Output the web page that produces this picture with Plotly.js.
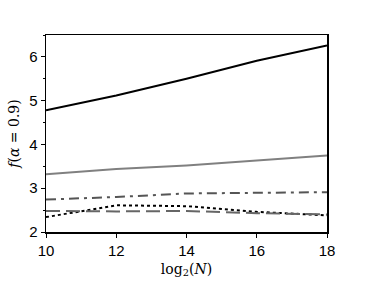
<!DOCTYPE html>
<html><head><meta charset="utf-8">
<script src="https://cdn.plot.ly/plotly-3.0.1.min.js"></script>
<style>html,body{margin:0;padding:0;background:#fff}#chart{width:374px;height:282px}</style>
</head><body><div id="chart"></div>
<script>
const xVals = [10, 12, 14, 16, 18];
const seriesBlack = [4.78, 5.12, 5.50, 5.91, 6.26];
const seriesGray = [3.32, 3.44, 3.52, 3.64, 3.75];
const seriesDashDot = [2.74, 2.80, 2.88, 2.90, 2.91];
const seriesDotted = [2.34, 2.61, 2.59, 2.46, 2.38];
const seriesDashed = [2.48, 2.47, 2.48, 2.43, 2.40];
const xTicks = [10, 12, 14, 16, 18];
const yTicks = [2, 3, 4, 5, 6];

const traces = [
  {x: xVals, y: seriesBlack, mode: 'lines', line: {color: '#000000', width: 2}},
  {x: xVals, y: seriesGray, mode: 'lines', line: {color: '#808080', width: 2}},
  {x: xVals, y: seriesDashDot, mode: 'lines', line: {color: '#555555', width: 2, dash: '10px,5px,3px,5px'}},
  {x: xVals, y: seriesDotted, mode: 'lines', line: {color: '#000000', width: 2, dash: 'dot'}},
  {x: xVals, y: seriesDashed, mode: 'lines', line: {color: '#666666', width: 2, dash: '14px,6px'}}
];
const layout = {
  width: 374, height: 282,
  margin: {l: 46, r: 47, t: 35, b: 50},
  showlegend: false,
  paper_bgcolor: '#fff', plot_bgcolor: '#fff',
  font: {family: 'Liberation Sans, Arial, sans-serif', size: 15, color: '#000'},
  xaxis: {
    range: [10, 18], tickvals: xTicks, ticktext: xTicks.map(String),
    showgrid: false, zeroline: false, showline: true, linecolor: '#000', linewidth: 1.5,
    mirror: true, ticks: 'outside', ticklen: 4, tickcolor: '#000',
    title: {text: 'log<sub>2</sub>(<i>N</i>)', font: {family: 'DejaVu Serif, Liberation Serif, serif', size: 14}, standoff: 6}
  },
  yaxis: {
    range: [2, 6.5], tickvals: yTicks, ticktext: yTicks.map(String),
    showgrid: false, zeroline: false, showline: true, linecolor: '#000', linewidth: 1.5,
    mirror: true, ticks: 'outside', ticklen: 4, tickcolor: '#000',
    minor: {dtick: 0.5, ticks: 'outside', ticklen: 2, tickcolor: '#000'},
    title: {text: '<i>f</i>(<i>α</i> = 0.9)', font: {family: 'DejaVu Serif, Liberation Serif, serif', size: 14}, standoff: 6}
  }
};
Plotly.newPlot('chart', traces, layout, {staticPlot: true, displayModeBar: false});
</script></body></html>
